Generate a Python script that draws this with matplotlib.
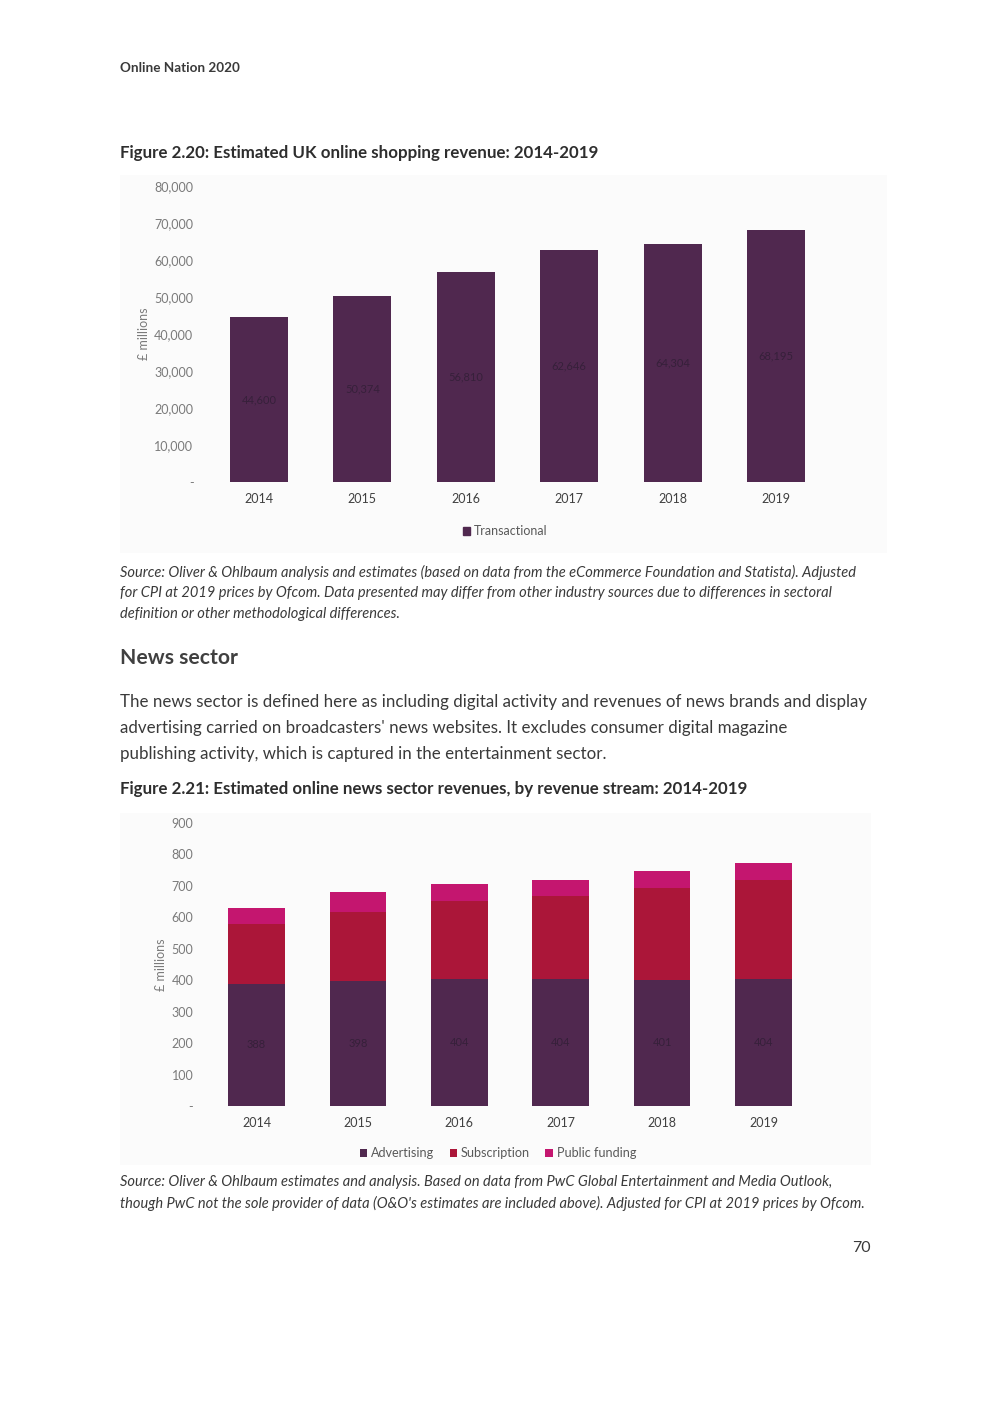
import numpy as np
import matplotlib.pyplot as plt
from matplotlib.patches import Rectangle, Patch

plt.rcParams['font.family'] = ['Lato', 'DejaVu Sans']

years = ['2014', '2015', '2016', '2017', '2018', '2019']

# Figure 2.20 - transactional revenue (GBP millions)
shop_transactional = [44600, 50374, 56810, 62646, 64304, 68195]
shop_yticks = [0, 10000, 20000, 30000, 40000, 50000, 60000, 70000, 80000]

# Figure 2.21 - news revenue streams (GBP millions)
news_advertising = [388, 398, 404, 404, 401, 404]
news_subscription = [191, 219, 248, 264, 292, 315]
news_public = [51, 64, 54, 51, 54, 54]
news_yticks = [0, 100, 200, 300, 400, 500, 600, 700, 800, 900]

PURPLE = '#50284f'
CRIMSON = '#ab1639'
MAGENTA = '#c4166f'
LABEL_DARK = '#36203a'
TICK_GREY = '#7a7a7a'
TEXT = '#3a3a3a'

W, H = 992, 1403
fig = plt.figure(figsize=(W / 100, H / 100), dpi=100)


def px_axes(x0, y0, x1, y1):
    # y0 top pixel, y1 bottom pixel
    return fig.add_axes([x0 / W, 1 - y1 / H, (x1 - x0) / W, (y1 - y0) / H])


def ftext(x, y, s, **kw):
    fig.text(x / W, 1 - y / H, s, **kw)


def fmt_k(v):
    return '-' if v == 0 else f'{v:,}'


# panel backgrounds
fig.patches.append(Rectangle((120 / W, 1 - 553 / H), 767 / W, 378 / H,
                             transform=fig.transFigure, facecolor='#fbfbfb',
                             edgecolor='none', zorder=-10))
fig.patches.append(Rectangle((120 / W, 1 - 1165 / H), 751 / W, 352 / H,
                             transform=fig.transFigure, facecolor='#fbfbfb',
                             edgecolor='none', zorder=-10))

# header and page text
ftext(120, 68, 'Online Nation 2020', fontsize=9.7, fontweight='bold', color=TEXT, va='center')
ftext(120, 153, 'Figure 2.20: Estimated UK online shopping revenue: 2014-2019',
      fontsize=12.2, fontweight='bold', color='#2e2e2e', va='center')

src1 = ['Source: Oliver & Ohlbaum analysis and estimates (based on data from the eCommerce Foundation and Statista). Adjusted',
        'for CPI at 2019 prices by Ofcom. Data presented may differ from other industry sources due to differences in sectoral',
        'definition or other methodological differences.']
for i, line in enumerate(src1):
    ftext(120, 572 + 21 * i, line, fontsize=10.5, style='italic', color=TEXT, va='center')

ftext(120, 658, 'News sector', fontsize=15.2, fontweight='bold', color='#404040', va='center')

para = ["The news sector is defined here as including digital activity and revenues of news brands and display",
        "advertising carried on broadcasters' news websites. It excludes consumer digital magazine",
        "publishing activity, which is captured in the entertainment sector."]
for i, line in enumerate(para):
    ftext(120, 702 + 26 * i, line, fontsize=12.2, color=TEXT, va='center')

ftext(120, 789, 'Figure 2.21: Estimated online news sector revenues, by revenue stream: 2014-2019',
      fontsize=12.2, fontweight='bold', color='#2e2e2e', va='center')

src2 = ['Source: Oliver & Ohlbaum estimates and analysis. Based on data from PwC Global Entertainment and Media Outlook,',
        "though PwC not the sole provider of data (O&O's estimates are included above). Adjusted for CPI at 2019 prices by Ofcom."]
for i, line in enumerate(src2):
    ftext(120, 1182 + 21 * i, line, fontsize=10.5, style='italic', color=TEXT, va='center')

ftext(871, 1248, '70', fontsize=11.5, color=TEXT, va='center', ha='right')

x = np.arange(len(years))

# ---- Figure 2.20 ----
ax1 = px_axes(207.3, 186, 827.7, 482)
ax1.bar(x, shop_transactional, width=0.56, color=PURPLE)
for xi, v in zip(x, shop_transactional):
    ax1.text(xi, v / 2, f'{v:,}', ha='center', va='center', fontsize=8, color=LABEL_DARK)
ax1.set_ylim(0, 80000)
ax1.set_xlim(-0.5, len(years) - 0.5)
ax1.set_yticks(shop_yticks)
ax1.set_yticklabels([fmt_k(v) for v in shop_yticks])
ax1.set_xticks(x)
ax1.set_xticklabels(years)
ax1.tick_params(axis='y', length=0, pad=10, labelsize=9, labelcolor=TICK_GREY)
ax1.tick_params(axis='x', length=0, pad=8, labelsize=9, labelcolor='#404040')
for s in ax1.spines.values():
    s.set_visible(False)
ax1.patch.set_visible(False)
ax1.set_ylabel('£ millions', fontsize=9, color=TICK_GREY, labelpad=3)
fig.legend(handles=[Patch(color=PURPLE, label='Transactional')], loc='center',
           bbox_to_anchor=(505 / W, 1 - 531 / H), frameon=False, fontsize=9,
           labelcolor='#595959', handlelength=0.6, handleheight=0.6, handletextpad=0.3)

# ---- Figure 2.21 ----
ax2 = px_axes(205.8, 823, 814.2, 1106)
adv = np.array(news_advertising)
sub = np.array(news_subscription)
pub = np.array(news_public)
ax2.bar(x, adv, width=0.56, color=PURPLE, label='Advertising')
ax2.bar(x, sub, width=0.56, bottom=adv, color=CRIMSON, label='Subscription')
ax2.bar(x, pub, width=0.56, bottom=adv + sub, color=MAGENTA, label='Public funding')
for xi, v in zip(x, adv):
    ax2.text(xi, v / 2, f'{v}', ha='center', va='center', fontsize=8, color=LABEL_DARK)
ax2.set_ylim(0, 900)
ax2.set_xlim(-0.5, len(years) - 0.5)
ax2.set_yticks(news_yticks)
ax2.set_yticklabels([fmt_k(v) for v in news_yticks])
ax2.set_xticks(x)
ax2.set_xticklabels(years)
ax2.tick_params(axis='y', length=0, pad=9, labelsize=9, labelcolor=TICK_GREY)
ax2.tick_params(axis='x', length=0, pad=8, labelsize=9, labelcolor='#404040')
for s in ax2.spines.values():
    s.set_visible(False)
ax2.patch.set_visible(False)
ax2.set_ylabel('£ millions', fontsize=9, color=TICK_GREY, labelpad=3)
h2, l2 = ax2.get_legend_handles_labels()
fig.legend(h2, l2, loc='center', ncol=3, bbox_to_anchor=(498 / W, 1 - 1153 / H),
           frameon=False, fontsize=9.1, labelcolor='#595959', handlelength=0.6,
           handleheight=0.6, handletextpad=0.3, columnspacing=1.2)

fig.savefig('out.png', dpi=100, facecolor='white')
